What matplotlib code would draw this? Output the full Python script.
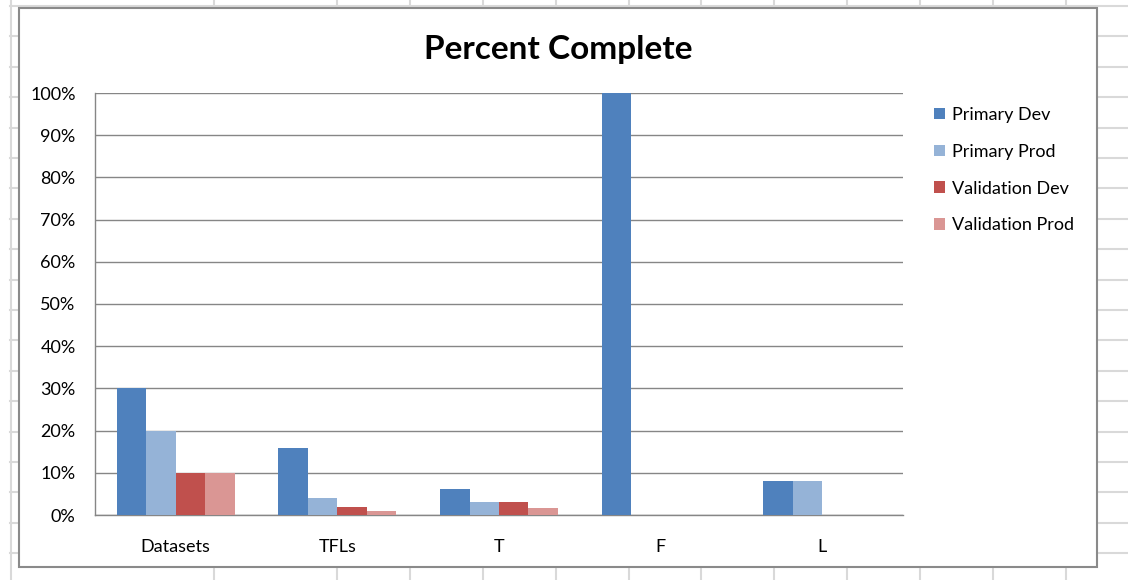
import numpy as np
import matplotlib
matplotlib.use('Agg')
import matplotlib.pyplot as plt
from matplotlib.lines import Line2D
from matplotlib.patches import Rectangle
from matplotlib.ticker import PercentFormatter

# Dữ liệu tiến độ theo từng hạng mục
categories = ['Datasets', 'TFLs', 'T', 'F', 'L']
primary_dev = [0.30, 0.158, 0.061, 1.00, 0.08]
primary_prod = [0.20, 0.041, 0.030, 0.0, 0.08]
validation_dev = [0.10, 0.020, 0.030, 0.0, 0.0]
validation_prod = [0.10, 0.009, 0.016, 0.0, 0.0]

series_names = ['Primary Dev', 'Primary Prod', 'Validation Dev', 'Validation Prod']
series_values = [primary_dev, primary_prod, validation_dev, validation_prod]
colors = ['#4F81BD', '#95B3D7', '#C0504D', '#DA9694']

plt.rcParams['font.family'] = ['Lato', 'DejaVu Sans']

W, H = 1128, 580
fig = plt.figure(figsize=(W / 100, H / 100), dpi=100)

# Nền lưới kiểu bảng tính phía sau biểu đồ
grid_col = '#D9D9D9'
for y in np.arange(6, H, 30.4):
    fig.add_artist(Line2D([10 / W, 1], [1 - y / H, 1 - y / H], color=grid_col, lw=1.5, zorder=-3))
for x in [10.5, 214, 337, 410, 483, 556, 629, 701, 774, 847, 920, 993, 1066]:
    fig.add_artist(Line2D([x / W, x / W], [0, 1], color=grid_col, lw=1.5, zorder=-3))

# Khung biểu đồ
fig.add_artist(Rectangle((19 / W, 1 - 567 / H), (1097 - 19) / W, (567 - 8) / H,
                         facecolor='white', edgecolor='#8A8A8A', lw=1.5, zorder=-2))

ax = fig.add_axes([95 / W, 1 - 515 / H, (903 - 95) / W, (515 - 93) / H])
ax.set_zorder(1)

# Vẽ các cột nhóm
x = np.arange(len(categories))
bar_w = 0.73 / 4
for i, (name, vals, c) in enumerate(zip(series_names, series_values, colors)):
    ax.bar(x + (i - 1.5) * bar_w, vals, width=bar_w, color=c, label=name, zorder=3)

ax.set_xlim(-0.5, len(categories) - 0.5)
ax.set_ylim(0, 1.0)
ax.set_yticks(np.arange(0, 1.01, 0.1))
ax.yaxis.set_major_formatter(PercentFormatter(1.0, decimals=0))
ax.set_xticks(x)
ax.set_xticklabels(categories)
ax.tick_params(axis='x', length=0, pad=17, labelsize=13)
ax.tick_params(axis='y', length=0, pad=14, labelsize=13)

ax.grid(axis='y', color='#868686', lw=1.0, zorder=0)
for side in ['top', 'right']:
    ax.spines[side].set_visible(False)
for side in ['left', 'bottom']:
    ax.spines[side].set_color('#868686')
    ax.spines[side].set_linewidth(1.0)

# Tiêu đề và chú thích
fig.text(558 / W, 1 - 50 / H, 'Percent Complete', ha='center', va='center',
         fontsize=24, fontweight='bold')
fig.legend(loc='upper left', bbox_to_anchor=(934 / W, 1 - 107 / H), frameon=False,
           fontsize=13, handlelength=0.6, handleheight=0.6, handletextpad=0.42,
           labelspacing=1.15, borderpad=0, borderaxespad=0)

plt.savefig('out.png', dpi=100)
